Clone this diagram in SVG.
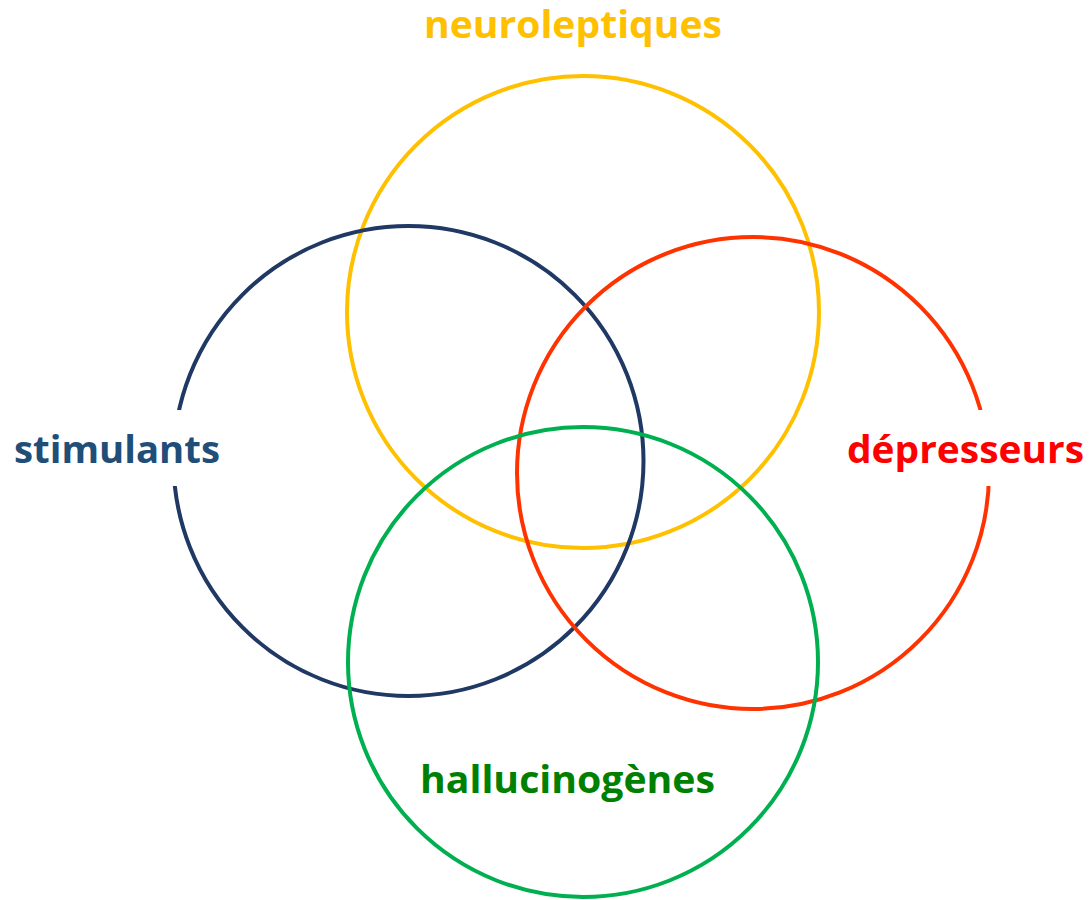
<svg xmlns="http://www.w3.org/2000/svg" width="1091" height="900" viewBox="0 0 1091 900">
<style>
.c{fill:none;stroke-width:4}
.t{font-family:"Open Sans","Noto Sans","Liberation Sans",sans-serif;font-weight:bold;font-size:37px;text-anchor:middle}
</style>
<rect width="1091" height="900" fill="#fff"/>
<g id="connectors"></g>
<g id="neuroleptiques">
<circle class="c" cx="583" cy="312" r="236" stroke="#FFC000"/>
<text class="t" x="573" y="38" font-size="35" fill="#FFC000" textLength="298" lengthAdjust="spacingAndGlyphs">neuroleptiques</text>
</g>
<g id="stimulants">
<circle class="c" cx="408.5" cy="461" r="235" stroke="#1F3864"/>
<rect x="150" y="410" width="60" height="76" fill="#fff"/>
<text class="t" x="117" y="463" fill="#1F4E79" textLength="206" lengthAdjust="spacingAndGlyphs">stimulants</text>
</g>
<g id="depresseurs">
<circle class="c" cx="753" cy="473" r="236" stroke="#FF3300"/>
<rect x="960" y="410" width="50" height="76" fill="#fff"/>
<text class="t" x="965.5" y="463" fill="#FF0000" textLength="237" lengthAdjust="spacingAndGlyphs">dépresseurs</text>
</g>
<g id="hallucinogenes">
<circle class="c" cx="583" cy="662" r="235" stroke="#00B050"/>
<text class="t" x="567.5" y="793" fill="#008000" textLength="295" lengthAdjust="spacingAndGlyphs">hallucinogènes</text>
</g>
</svg>
